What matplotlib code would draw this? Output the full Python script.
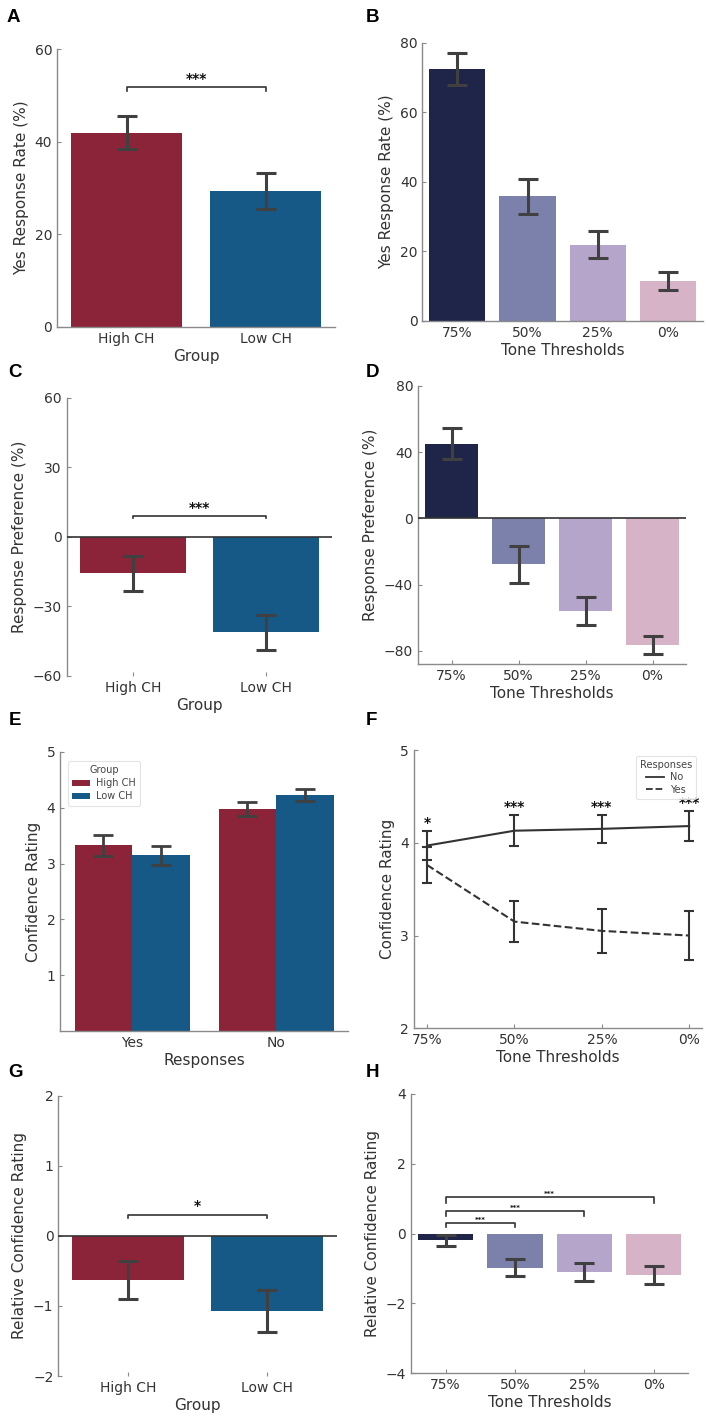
import matplotlib
matplotlib.use('Agg')
import matplotlib.pyplot as plt
from matplotlib.lines import Line2D
import numpy as np

plt.rcParams['font.family'] = ['DejaVu Sans']
plt.rcParams['axes.edgecolor'] = '#8a8a8a'
plt.rcParams['axes.linewidth'] = 1.0
plt.rcParams['xtick.color'] = '#8a8a8a'
plt.rcParams['ytick.color'] = '#8a8a8a'
plt.rcParams['xtick.labelcolor'] = '#333333'
plt.rcParams['ytick.labelcolor'] = '#333333'
plt.rcParams['axes.labelcolor'] = '#333333'

# ---- data ----
groups = ['High CH', 'Low CH']
thresholds = ['75%', '50%', '25%', '0%']
responses = ['Yes', 'No']

yes_rate_group = [42.0, 29.4]
yes_rate_group_err = [3.5, 3.8]

yes_rate_tone = [72.5, 35.8, 21.9, 11.6]
yes_rate_tone_err = [4.6, 5.0, 3.9, 2.6]

pref_group = [-15.7, -41.1]
pref_group_err = [7.6, 7.6]

pref_tone = [45.1, -27.8, -56.0, -76.6]
pref_tone_err = [9.3, 11.2, 8.2, 5.3]

conf_high = [3.33, 3.98]   # Yes, No
conf_high_err = [0.19, 0.12]
conf_low = [3.15, 4.23]
conf_low_err = [0.17, 0.11]

conf_no = [3.97, 4.13, 4.15, 4.18]
conf_no_err = [0.16, 0.17, 0.15, 0.16]
conf_yes = [3.76, 3.15, 3.05, 3.00]
conf_yes_err = [0.19, 0.22, 0.24, 0.26]
tone_stars = ['*', '***', '***', '***']

rel_conf_group = [-0.63, -1.07]
rel_conf_group_err = [0.27, 0.30]

rel_conf_tone = [-0.20, -0.98, -1.09, -1.19]
rel_conf_tone_err = [0.17, 0.25, 0.26, 0.25]

group_colors = ['#8c2439', '#165886']
tone_colors = ['#1e2548', '#7b81aa', '#b5a5ca', '#d7b3c8']

ERR = '#404040'
W, H = 709, 1418
LAB = 11
TICK = 10

fig = plt.figure(figsize=(W / 100, H / 100), dpi=100)


def px_axes(x0, y0, x1, y1):
    return fig.add_axes([x0 / W, 1 - y1 / H, (x1 - x0) / W, (y1 - y0) / H])


def style(ax, bottom=True):
    ax.spines['top'].set_visible(False)
    ax.spines['right'].set_visible(False)
    if not bottom:
        ax.spines['bottom'].set_visible(False)
    ax.tick_params(direction='in', length=3, width=0.8, labelsize=TICK)


def bracket(ax, x1, x2, y, tip, text, fs=10, dy=0.0):
    ax.plot([x1, x1, x2, x2], [y - tip, y, y, y - tip], color='#333333', lw=1.2)
    ax.text((x1 + x2) / 2, y + dy, text, ha='center', va='bottom',
            fontsize=fs, fontweight='bold', color='#111111')


def bars(ax, values, errs, colors, capsize=7.5):
    x = np.arange(len(values))
    ax.bar(x, values, width=0.8, color=colors, zorder=2)
    ax.errorbar(x, values, yerr=errs, fmt='none', ecolor=ERR, elinewidth=2.2,
                capsize=capsize, capthick=2.2, zorder=3)
    return x


def small_legend(leg):
    leg.get_frame().set_edgecolor('#dddddd')
    leg.get_frame().set_linewidth(0.8)
    leg.get_title().set_color('#444444')
    for t in leg.get_texts():
        t.set_color('#444444')


# ---- A ----
ax = px_axes(57, 49.3, 335, 327)
x = bars(ax, yes_rate_group, yes_rate_group_err, group_colors)
ax.set_xlim(-0.5, 1.5)
ax.set_ylim(0, 60)
ax.set_yticks([0, 20, 40, 60])
ax.set_xticks(x, groups)
ax.set_xlabel('Group', fontsize=LAB, labelpad=2)
ax.set_ylabel('Yes Response Rate (%)', fontsize=LAB)
bracket(ax, 0, 1, 51.8, 0.8, '***', dy=0.2)
style(ax)

# ---- B ----
ax = px_axes(422.3, 42.7, 703, 321)
x = bars(ax, yes_rate_tone, yes_rate_tone_err, tone_colors, capsize=7)
ax.set_xlim(-0.5, 3.5)
ax.set_ylim(0, 80)
ax.set_yticks([0, 20, 40, 60, 80])
ax.set_xticks(x, thresholds)
ax.set_xlabel('Tone Thresholds', fontsize=LAB, labelpad=2)
ax.set_ylabel('Yes Response Rate (%)', fontsize=LAB)
style(ax)

# ---- C ----
ax = px_axes(66.7, 398, 332, 676)
x = bars(ax, pref_group, pref_group_err, group_colors)
ax.axhline(0, color='#333333', lw=1.2, zorder=4)
ax.set_xlim(-0.5, 1.5)
ax.set_ylim(-60, 60)
ax.set_yticks([-60, -30, 0, 30, 60])
ax.set_xticks(x, groups)
ax.set_xlabel('Group', fontsize=LAB, labelpad=2)
ax.set_ylabel('Response Preference (%)', fontsize=LAB)
bracket(ax, 0, 1, 9.2, 1.1, '***', dy=0.3)
style(ax, bottom=False)

# ---- D ----
ax = px_axes(418, 386, 686, 664)
x = bars(ax, pref_tone, pref_tone_err, tone_colors, capsize=7)
ax.axhline(0, color='#333333', lw=1.2, zorder=4)
ax.set_xlim(-0.5, 3.5)
ax.set_ylim(-88, 80)
ax.set_yticks([-80, -40, 0, 40, 80])
ax.set_xticks(x, thresholds)
ax.set_xlabel('Tone Thresholds', fontsize=LAB, labelpad=2)
ax.set_ylabel('Response Preference (%)', fontsize=LAB)
style(ax)

# ---- E ----
ax = px_axes(60.3, 752, 348.3, 1031)
x = np.arange(len(responses))
for i, (vals, errs, lab) in enumerate([(conf_high, conf_high_err, groups[0]),
                                       (conf_low, conf_low_err, groups[1])]):
    xi = x - 0.2 + 0.4 * i
    ax.bar(xi, vals, width=0.4, color=group_colors[i], label=lab, zorder=2)
    ax.errorbar(xi, vals, yerr=errs, fmt='none', ecolor=ERR, elinewidth=2,
                capsize=7, capthick=2, zorder=3)
ax.set_xlim(-0.5, 1.5)
ax.set_ylim(0, 5)
ax.set_yticks([1, 2, 3, 4, 5])
ax.set_xticks(x, responses)
ax.set_xlabel('Responses', fontsize=LAB, labelpad=2)
ax.set_ylabel('Confidence Rating', fontsize=LAB)
leg = ax.legend(title='Group', loc='upper left', fontsize=7, title_fontsize=7,
                frameon=True, bbox_to_anchor=(0.01, 0.985), handlelength=1.8,
                handleheight=0.5, borderpad=0.45, labelspacing=0.3,
                handletextpad=0.6)
small_legend(leg)
style(ax)

# ---- F ----
ax = px_axes(414, 750, 702.3, 1028.3)
x = np.arange(len(thresholds))
ax.errorbar(x, conf_no, yerr=conf_no_err, color='#333333', lw=1.5, ls='-',
            elinewidth=1.5, capsize=3.5, capthick=1.5, label='No')
ax.errorbar(x, conf_yes, yerr=conf_yes_err, color='#333333', lw=1.5, ls='--',
            elinewidth=1.5, capsize=3.5, capthick=1.5, label='Yes')
for xi, v, e, s in zip(x, conf_no, conf_no_err, tone_stars):
    ax.text(xi, v + e + 0.01, s, ha='center', va='bottom', fontsize=10,
            fontweight='bold', color='#111111')
ax.set_xlim(-0.15, 3.15)
ax.set_ylim(2, 5)
ax.set_yticks([2, 3, 4, 5])
ax.set_xticks(x, thresholds)
ax.set_xlabel('Tone Thresholds', fontsize=LAB, labelpad=2)
ax.set_ylabel('Confidence Rating', fontsize=LAB)
handles = [Line2D([0], [0], color='#333333', lw=1.3, ls='-'),
           Line2D([0], [0], color='#333333', lw=1.3, ls='--')]
leg = ax.legend(handles, ['No', 'Yes'], title='Responses', loc='upper right',
                fontsize=7, title_fontsize=7, bbox_to_anchor=(0.985, 0.985),
                handlelength=1.8, borderpad=0.4, labelspacing=0.25,
                handletextpad=0.6, borderaxespad=0.2)
small_legend(leg)
style(ax)

# ---- G ----
ax = px_axes(58.3, 1095.7, 336.7, 1376)
x = bars(ax, rel_conf_group, rel_conf_group_err, group_colors)
ax.axhline(0, color='#333333', lw=1.2, zorder=4)
ax.set_xlim(-0.5, 1.5)
ax.set_ylim(-2, 2)
ax.set_yticks([-2, -1, 0, 1, 2])
ax.set_xticks(x, groups)
ax.set_xlabel('Group', fontsize=LAB, labelpad=2)
ax.set_ylabel('Relative Confidence Rating', fontsize=LAB)
bracket(ax, 0, 1, 0.30, 0.04, '*', dy=0.02)
style(ax, bottom=False)

# ---- H ----
ax = px_axes(411, 1093.7, 688.3, 1373.3)
x = bars(ax, rel_conf_tone, rel_conf_tone_err, tone_colors, capsize=7)
ax.set_xlim(-0.5, 3.5)
ax.set_ylim(-4, 4)
ax.set_yticks([-4, -2, 0, 2, 4])
ax.set_xticks(x, thresholds)
ax.set_xlabel('Tone Thresholds', fontsize=LAB, labelpad=2)
ax.set_ylabel('Relative Confidence Rating', fontsize=LAB)
for j, (yb, tip) in enumerate([(0.31, 0.12), (0.65, 0.15), (1.04, 0.18)]):
    bracket(ax, 0, j + 1, yb, tip, '***', fs=5, dy=0.0)
style(ax)

# panel letters
for lab, px, py in [('A', 7, 9), ('B', 366, 9), ('C', 8, 364), ('D', 366, 364),
                    ('E', 9, 712), ('F', 366, 712), ('G', 8, 1064), ('H', 366, 1064)]:
    fig.text(px / W, 1 - py / H, lab, fontsize=13.5, fontweight='bold',
             family='Liberation Sans', ha='left', va='top')

fig.savefig('out.png', dpi=100)
